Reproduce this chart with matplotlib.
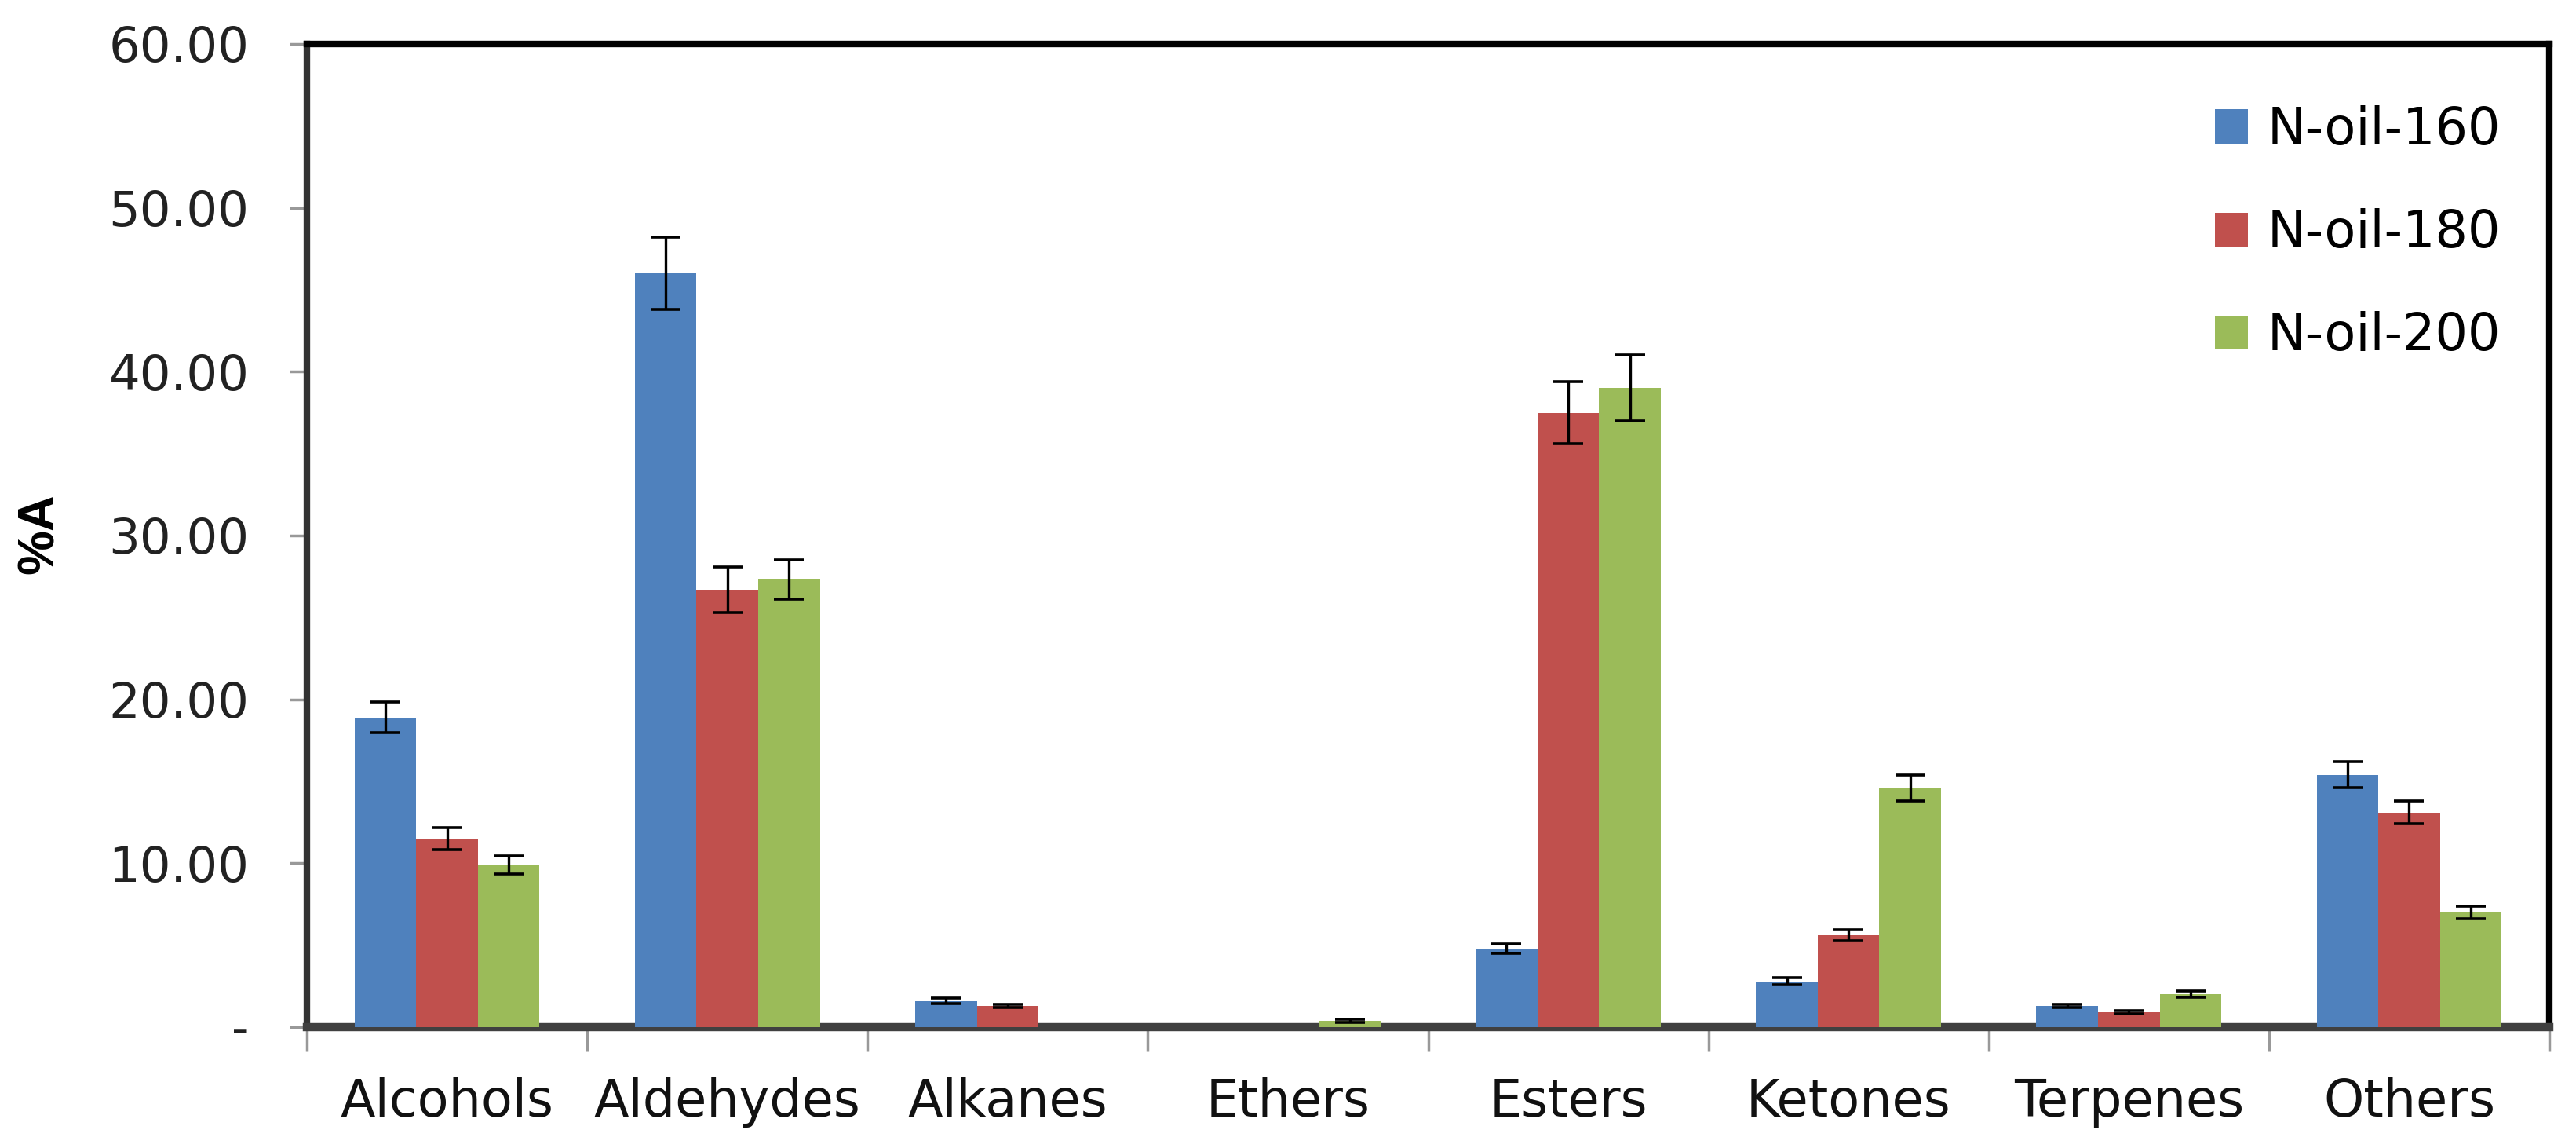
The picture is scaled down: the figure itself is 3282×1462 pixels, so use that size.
import numpy as np
import matplotlib
matplotlib.use("Agg")
import matplotlib.pyplot as plt
from matplotlib.patches import Patch

categories = ["Alcohols", "Aldehydes", "Alkanes", "Ethers", "Esters", "Ketones", "Terpenes", "Others"]
series_names = ["N-oil-160", "N-oil-180", "N-oil-200"]
n_oil_160 = [18.9, 46.0, 1.6, 0.0, 4.8, 2.8, 1.3, 15.4]
n_oil_180 = [11.5, 26.7, 1.3, 0.0, 37.5, 5.6, 0.9, 13.1]
n_oil_200 = [9.9, 27.3, 0.0, 0.4, 39.0, 14.6, 2.0, 7.0]
err_160 = [0.95, 2.2, 0.15, 0.0, 0.3, 0.2, 0.1, 0.8]
err_180 = [0.65, 1.4, 0.1, 0.0, 1.9, 0.35, 0.1, 0.7]
err_200 = [0.55, 1.2, 0.0, 0.1, 2.0, 0.8, 0.2, 0.4]
y_ticks = [0, 10, 20, 30, 40, 50, 60]
y_tick_labels = ["-", "10.00", "20.00", "30.00", "40.00", "50.00", "60.00"]

colors = ["#4F81BD", "#C0504D", "#9BBB59"]
text_font = "DejaVu Sans"

W, H = 3282, 1462
fig = plt.figure(figsize=(W / 100, H / 100), dpi=100)
left, right, top, bottom = 391, 3248, 56, 1308
ax = fig.add_axes([left / W, 1 - bottom / H, (right - left) / W, (bottom - top) / H])

x = np.arange(len(categories))
width = 0.22
values = [n_oil_160, n_oil_180, n_oil_200]
errs = [err_160, err_180, err_200]
for i, (vals, er) in enumerate(zip(values, errs)):
    xs = x + (i - 1) * width
    ax.bar(xs, vals, width=width, color=colors[i], zorder=3, label=series_names[i])
    v = np.array(vals)
    e = np.array(er)
    m = e > 0
    ax.errorbar(xs[m], v[m], yerr=e[m], fmt="none", ecolor="black",
                elinewidth=2.4, capsize=14, capthick=2.6, zorder=4)

ax.set_xlim(-0.5, len(categories) - 0.5)
ax.set_ylim(0, 60)

ax.set_yticks(y_ticks)
ax.set_yticklabels(y_tick_labels, fontsize=45, color="#222222", family=text_font)
ax.tick_params(axis="y", length=16, width=2.5, color="#999999", pad=37)

ax.set_xticks(x)
ax.set_xticklabels(categories, fontsize=47, family=text_font, color="#111111")
ax.tick_params(axis="x", which="major", length=0, pad=46)
ax.set_xticks(np.arange(-0.5, len(categories), 1.0), minor=True)
ax.tick_params(axis="x", which="minor", length=22, width=2.5, color="#999999")

for s in ["top", "right"]:
    ax.spines[s].set_color("black")
    ax.spines[s].set_linewidth(6)
ax.spines["left"].set_color("#333333")
ax.spines["left"].set_linewidth(6)
ax.spines["bottom"].set_color("#404040")
ax.spines["bottom"].set_linewidth(7.5)
for s in ax.spines.values():
    s.set_zorder(2.5)

fig.text(51 / W, 1 - 680 / H, "%A", rotation=90, ha="center", va="center",
         fontsize=46, fontweight="bold", family="Liberation Sans")

handles = [Patch(facecolor=c) for c in colors]
leg = ax.legend(handles, series_names, loc="upper right",
                bbox_to_anchor=(3186 / W, 1 - 134 / H), bbox_transform=fig.transFigure,
                frameon=False, prop={"family": text_font, "size": 47},
                handlelength=0.65, handleheight=0.65, handletextpad=0.37,
                labelspacing=1.03, borderpad=0, borderaxespad=0)

fig.savefig("out.png", dpi=100)
